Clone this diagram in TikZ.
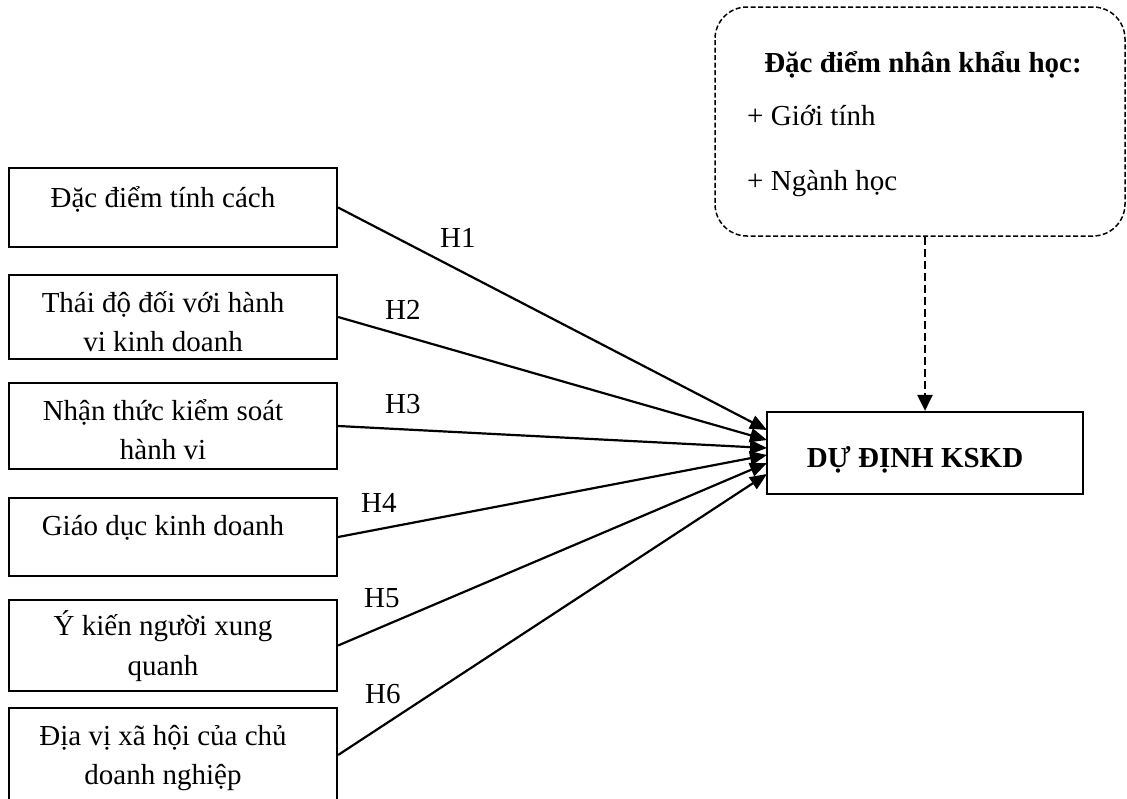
\documentclass[tikz,border=0pt]{standalone}
\usepackage{fontspec}
\setmainfont{Liberation Serif}
\usetikzlibrary{arrows.meta}
\newcommand\mystrut{\rule[-6pt]{0pt}{39pt}}
\tikzset{
  box/.style={draw, line width=2.2pt, inner sep=0pt, minimum width=328pt},
  txt/.style={inner sep=0pt, font=\fontsize{29}{39}\selectfont, align=center},
  btxt/.style={inner sep=0pt, font=\fontsize{29}{39}\selectfont\bfseries, align=center},
  arr/.style={line width=2.2pt, -{Triangle[length=17pt,width=14pt]}},
  darr/.style={line width=2.6pt, dash pattern=on 8pt off 4pt, -{Triangle[length=16pt,width=15pt]}},
  dbox/.style={draw, line width=1.5pt, dash pattern=on 5pt off 2.5pt, rounded corners=32pt, inner sep=0pt},
}
\begin{document}
\begin{tikzpicture}[x=1pt,y=-1pt]
\useasboundingbox (0,0) rectangle (1127,798);
\clip (0,0) rectangle (1127,798);
% left boxes
\node[box, minimum height=79pt] (b1) at (173,207.5) {};
\node[box, minimum height=84pt] (b2) at (173,317) {};
\node[box, minimum height=86pt] (b3) at (173,426) {};
\node[box, minimum height=78pt] (b4) at (173,537) {};
\node[box, minimum height=91pt] (b5) at (173,645.5) {};
\node[box, minimum height=94pt] (b6) at (173,755) {};
% texts
\node[txt, anchor=north] (t1) at (163,174) {\mystrut Đặc điểm tính cách};
\node[txt, anchor=north] (t2) at (163,279) {\mystrut Thái độ đối với hành\\\mystrut vi kinh doanh};
\node[txt, anchor=north] (t3) at (163,387) {\mystrut Nhận thức kiểm soát\\\mystrut hành vi};
\node[txt, anchor=north] (t4) at (163,502) {\mystrut Giáo dục kinh doanh};
\node[txt, anchor=north] (t5) at (163,602) {\mystrut Ý kiến người xung\\\mystrut quanh};
\node[txt, anchor=north] (t6) at (163,712) {\mystrut Địa vị xã hội của chủ\\\mystrut doanh nghiệp};
% target
\node[box, minimum width=316pt, minimum height=82pt] (t) at (925,453) {};
\node[btxt, anchor=base] (tl) at (915,467) {DỰ ĐỊNH KSKD};
% demographic box
\node[dbox, minimum width=410pt, minimum height=229pt] (d) at (920,121.5) {};
\node[btxt, anchor=base] (d1) at (923,72) {Đặc điểm nhân khẩu học:};
\node[txt, anchor=base west] (d2) at (747,125) {+ Giới tính};
\node[txt, anchor=base west] (d3) at (747,190) {+ Ngành học};
% arrow ends
\coordinate (e1) at (767,430);
\coordinate (e2) at (767,440);
\coordinate (e3) at (767,448);
\coordinate (e4) at (767,455);
\coordinate (e5) at (767,463);
\coordinate (e6) at (767,474);
\draw[arr] (b1.east) -- (e1);
\draw[arr] (b2.east) -- (e2);
\draw[arr] (b3.east) -- (e3);
\draw[arr] (b4.east) -- (e4);
\draw[arr] (b5.east) -- (e5);
\draw[arr] (b6.east) -- (e6);
\draw[darr] (d.south -| t.north) -- (t.north);
% labels
\node[txt, anchor=base west] (h1) at (440,247) {H1};
\node[txt, anchor=base west] (h2) at (385,319) {H2};
\node[txt, anchor=base west] (h3) at (385,413) {H3};
\node[txt, anchor=base west] (h4) at (361,512) {H4};
\node[txt, anchor=base west] (h5) at (364,607) {H5};
\node[txt, anchor=base west] (h6) at (365,703) {H6};
\end{tikzpicture}
\end{document}
